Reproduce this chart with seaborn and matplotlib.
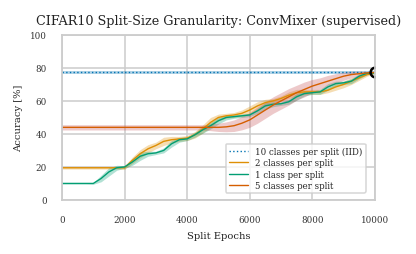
import pandas as pd
import numpy as np
import matplotlib
matplotlib.use("Agg")
import matplotlib.pyplot as plt
import seaborn as sns

# epochs sampled every 250
epochs = list(range(0, 10001, 250))

iid_acc = [77.3] * 41
iid_sd = [0.7] * 41

two_acc = [19.5, 19.5, 19.5, 19.5, 19.5, 19.5, 19.5, 19.5, 19.5, 24, 28, 31, 33, 35.5, 36.5, 37,
           37.5, 39.5, 43, 47, 50, 51, 51.5, 52.5, 54.5, 57, 59, 60, 61.5, 63.5, 65, 65.5,
           65.5, 65.5, 66.5, 68.5, 70, 72, 74, 76, 77]
two_sd = [0.8] * 8 + [1, 2, 2.5, 2.5, 2, 2.5, 2, 1.5, 1.5, 2, 2.5, 3, 2, 1.5, 1.5, 2, 2.5, 2.5, 2, 1.5,
          1.5, 2, 2, 1.5, 1.5, 1.5, 1.5, 2, 2, 2, 1.5, 1, 0.5]

one_acc = [10, 10, 10, 10, 10, 13, 17, 19.5, 20, 23, 26.5, 28, 28.5, 30, 34, 36.5,
           37, 39.5, 42.5, 45, 48, 50, 50.5, 51, 51.5, 54, 57, 58, 58.3, 59.5, 62.5, 64.5,
           65, 65.5, 68.5, 70.5, 71, 72, 75, 76.8, 77]
one_sd = [0.3, 0.3, 0.3, 0.3, 0.5, 2, 2.5, 1.5, 0.8, 2, 2.5, 1.5, 1, 1.5, 2, 1.5,
          1, 1.5, 2, 2, 2, 1.5, 1, 1, 1, 1.5, 2, 1.5, 1, 1.5, 2, 1.5,
          1, 1.5, 2, 1.5, 1, 1.5, 1.5, 1, 0.5]

five_acc = [44] * 21 + [44.3, 45, 46.5, 48.5, 51.5, 54.5, 57.5, 60, 62.5, 65, 67, 69, 70.5, 72,
                        73.5, 75, 76, 76.5, 77, 77.3]
five_sd = [1.6] * 19 + [2, 2.5, 3, 3.5, 4, 4.5, 5, 5, 5, 5, 5, 4.5, 4.5, 4, 3.5, 3.5,
                        3, 2.5, 2, 1.5, 1, 0.5]

labels = ["10 classes per split (IID)", "2 classes per split",
          "1 class per split", "5 classes per split"]
colors = ["#0173b2", "#de8f05", "#029e73", "#d55e00"]
band_colors = ["#0173b2", "#de8f05", "#029e73", "#c44e52"]
means = [iid_acc, two_acc, one_acc, five_acc]
sds = [iid_sd, two_sd, one_sd, five_sd]
styles = [":", "-", "-", "-"]

sns.set_theme(style="whitegrid", context="paper")
plt.rcParams["font.family"] = ["DejaVu Serif"]

fig = plt.figure(figsize=(4.16, 2.55), dpi=100)
ax = fig.add_axes([0.149, 0.212, 0.752, 0.647])

for lab, col, bcol, m, s, ls in zip(labels, colors, band_colors, means, sds, styles):
    m = np.array(m)
    s = np.array(s)
    ax.fill_between(epochs, m - s, m + s, color=bcol, alpha=0.3, linewidth=0)
    sns.lineplot(x=epochs, y=m, ax=ax, color=col, linestyle=ls, linewidth=1.0, label=lab)

ax.plot([10000], [77.3], marker="o", markersize=7, markerfacecolor="none",
        markeredgecolor="black", markeredgewidth=1.8, clip_on=True)

ax.set_xlim(0, 10000)
ax.set_ylim(0, 100)
ax.set_xticks([0, 2000, 4000, 6000, 8000, 10000])
ax.set_yticks([0, 20, 40, 60, 80, 100])
ax.tick_params(labelsize=6.3, pad=6, colors="#333333")
ax.grid(color="#cccccc", linewidth=1.1)
for sp in ax.spines.values():
    sp.set_color("#cccccc")
    sp.set_linewidth(1.3)

ax.set_title("CIFAR10 Split-Size Granularity: ConvMixer (supervised)", fontsize=9.2, pad=8,
             color="#222222")
ax.set_xlabel("Split Epochs", fontsize=7.2, labelpad=5, color="#222222")
ax.set_ylabel("Accuracy [%]", fontsize=7.2, labelpad=5, color="#222222")

leg = ax.legend(loc="lower right", fontsize=6.2, frameon=True, handlelength=2.2,
                borderpad=0.4, labelspacing=0.25, bbox_to_anchor=(0.985, 0.015))
leg.get_frame().set_edgecolor("#cccccc")
leg.get_frame().set_linewidth(1.1)

fig.savefig("out.png", dpi=100)
